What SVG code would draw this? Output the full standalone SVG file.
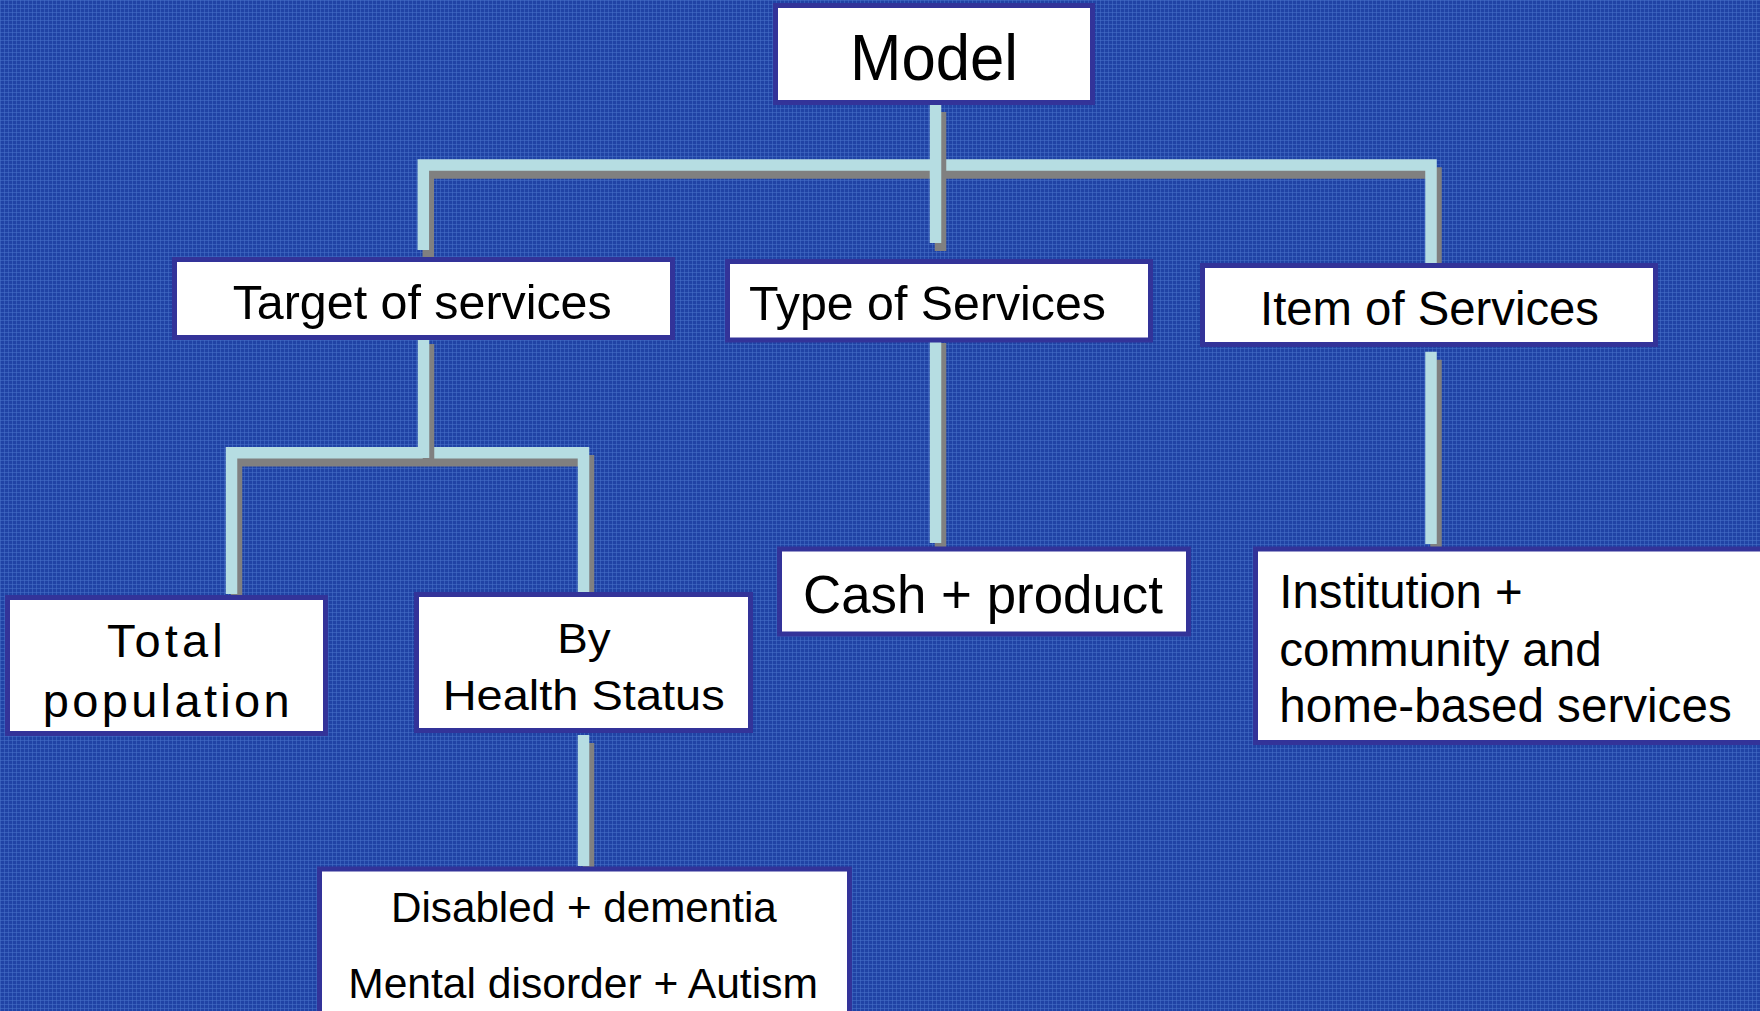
<svg xmlns="http://www.w3.org/2000/svg" width="1760" height="1011" viewBox="0 0 1760 1011">
<defs>
<pattern id="bgp" x="0" y="0" width="4" height="4" patternUnits="userSpaceOnUse">
<rect width="4" height="4" fill="#2043a5"/>
<rect width="4" height="1" fill="#4670c8" opacity="0.55"/>
<rect width="1" height="4" fill="#4670c8" opacity="0.55"/>
</pattern>
</defs>
<style>
.box{fill:#ffffff;stroke:#333399;stroke-width:5}
.ln{fill:none;stroke:#b6dde2;stroke-width:11.5;stroke-linecap:butt;stroke-linejoin:miter}
.sh{fill:none;stroke:#808080;stroke-width:11.5;stroke-linecap:butt;stroke-linejoin:miter}
text{font-family:"Liberation Sans",Arial,Helvetica,sans-serif;fill:#000000}
</style>
<rect width="1760" height="1011" fill="url(#bgp)"/>
<g id="connectors">
<path class="sh" transform="translate(5,8)" d="M423.3,250 V165 H1431 V264"/>
<path class="ln" d="M423.3,250 V165 H1431 V264"/>
<path class="sh" transform="translate(5,8)" d="M935.5,104 V243"/>
<path class="ln" d="M935.5,104 V243"/>
<path class="sh" transform="translate(5,8)" d="M935.5,335 V543"/>
<path class="ln" d="M935.5,335 V543"/>
<path class="sh" transform="translate(5,8)" d="M1431,351.7 V544"/>
<path class="ln" d="M1431,351.7 V544"/>
<path class="sh" transform="translate(5,8)" d="M231.5,594 V452.8 H583.5 V592"/>
<path class="ln" d="M231.5,594 V452.8 H583.5 V592"/>
<path class="sh" transform="translate(5,8)" d="M423.5,336 V458"/>
<path class="ln" d="M423.5,336 V458"/>
<path class="sh" transform="translate(5,8)" d="M583.5,735 V866"/>
<path class="ln" d="M583.5,735 V866"/>
</g>
<g id="model">
<rect class="box" x="775.5" y="5.5" width="317" height="97"/>
<text x="850" y="80" font-size="64" textLength="168" lengthAdjust="spacingAndGlyphs">Model</text>
</g>
<g id="target">
<rect class="box" x="174.5" y="259.5" width="498" height="78"/>
<text x="232.7" y="319" font-size="48" textLength="379" lengthAdjust="spacingAndGlyphs">Target of services</text>
</g>
<g id="type">
<rect class="box" x="727.5" y="261.5" width="423" height="78.5"/>
<text x="749" y="320" font-size="48" textLength="357" lengthAdjust="spacingAndGlyphs">Type of Services</text>
</g>
<g id="item">
<rect class="box" x="1202.5" y="265.5" width="453" height="79"/>
<text x="1260" y="325" font-size="48" textLength="339" lengthAdjust="spacingAndGlyphs">Item of Services</text>
</g>
<g id="total">
<rect class="box" x="7.5" y="597.5" width="318" height="136"/>
<text x="107" y="656.7" font-size="47" textLength="115.7" lengthAdjust="spacing">Total</text>
<text x="42.7" y="716.7" font-size="47" textLength="247" lengthAdjust="spacing">population</text>
</g>
<g id="health">
<rect class="box" x="416.5" y="594.5" width="334" height="136"/>
<text x="557.3" y="652.7" font-size="42" textLength="53.4" lengthAdjust="spacingAndGlyphs">By</text>
<text x="442.7" y="710" font-size="42" textLength="282" lengthAdjust="spacingAndGlyphs">Health Status</text>
</g>
<g id="cash">
<rect class="box" x="779.5" y="549" width="409" height="85"/>
<text x="803" y="613" font-size="53" textLength="360" lengthAdjust="spacingAndGlyphs">Cash + product</text>
</g>
<g id="institution">
<rect class="box" x="1255.5" y="549" width="520" height="193.5"/>
<text x="1279.3" y="608.3" font-size="48" textLength="243.4" lengthAdjust="spacingAndGlyphs">Institution +</text>
<text x="1279.3" y="665.7" font-size="48" textLength="322.4" lengthAdjust="spacingAndGlyphs">community and</text>
<text x="1279.3" y="722.3" font-size="48" textLength="452.4" lengthAdjust="spacingAndGlyphs">home-based services</text>
</g>
<g id="disabled">
<rect class="box" x="319.5" y="869" width="530" height="200"/>
<text x="391" y="922.3" font-size="42" textLength="385.8" lengthAdjust="spacingAndGlyphs">Disabled + dementia</text>
<text x="348.2" y="998.3" font-size="42" textLength="469.7" lengthAdjust="spacingAndGlyphs">Mental disorder + Autism</text>
</g>
</svg>
